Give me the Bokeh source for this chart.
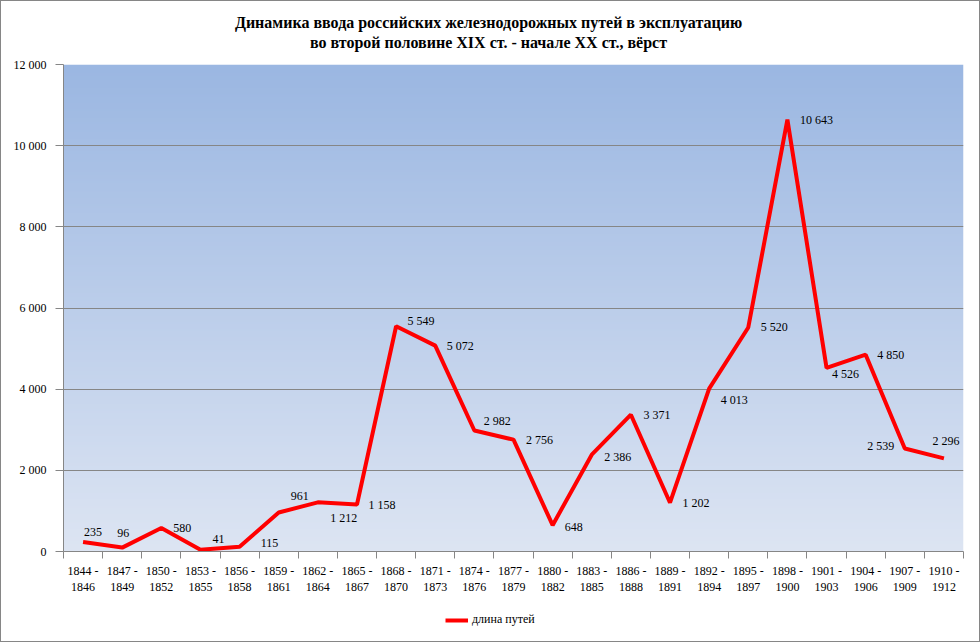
import numpy as np
from bokeh.plotting import figure
from bokeh.layouts import column
from bokeh.models import (Range1d, FixedTicker, Label, Legend, LegendItem,
                          ColumnDataSource)
from bokeh.core.properties import value
from bokeh.embed import file_html
from bokeh.resources import INLINE

# ---- data ----
periods = ["1844 -\n1846", "1847 -\n1849", "1850 -\n1852", "1853 -\n1855",
           "1856 -\n1858", "1859 -\n1861", "1862 -\n1864", "1865 -\n1867",
           "1868 -\n1870", "1871 -\n1873", "1874 -\n1876", "1877 -\n1879",
           "1880 -\n1882", "1883 -\n1885", "1886 -\n1888", "1889 -\n1891",
           "1892 -\n1894", "1895 -\n1897", "1898 -\n1900", "1901 -\n1903",
           "1904 -\n1906", "1907 -\n1909", "1910 -\n1912"]
track_length = [235, 96, 580, 41, 115, 961, 1212, 1158, 5549, 5072, 2982, 2756,
                648, 2386, 3371, 1202, 4013, 5520, 10643, 4526, 4850, 2539, 2296]
y_ticks = [0, 2000, 4000, 6000, 8000, 10000, 12000]
series_name = "длина путей"
title_line1 = "Динамика ввода российских железнодорожных путей в эксплуатацию"
title_line2 = "во второй половине XIX ст. - начале XX ст., вёрст"

# ---- label placement (style only) ----
label_dx = [10, 1, 21, 18, 30, 21, 26, 25, 25, 25, 23, 26, 21, 26, 26, 26, 25, 26, 29, 19, 25, -24, 2]
label_dy = [-10, -15, 0, -11, -4, -16, 16, 0, -5, 0, -9, 0, 2, 2, 0, 0, 11, 0, 0, 6, 0, -2, -17]

SERIF = "Liberation Serif"
GRAY = "#868686"
RED = "#ff0000"
W = 978

n = len(periods)
idx = list(range(n))

def fmt(v):
    return f"{v:,}".replace(",", " ")

def strip(height):
    f = figure(width=W, height=height, output_backend="svg", toolbar_location=None,
               x_range=Range1d(0, 1), y_range=Range1d(-2, -1),
               x_axis_type=None, y_axis_type=None,
               min_border_left=0, min_border_right=0, min_border_top=0,
               min_border_bottom=0, background_fill_color="white",
               border_fill_color="white", outline_line_color=None)
    f.xgrid.visible = False
    f.ygrid.visible = False
    return f

# ---- title strip ----
p0 = strip(55)
for txt, yy in [(title_line1, 34), (title_line2, 14)]:
    p0.add_layout(Label(x=425, y=yy, x_units="screen", y_units="screen",
                        text=txt, text_font=SERIF, text_font_size="16px",
                        text_font_style="bold", text_align="center",
                        text_baseline="middle", text_color="black"))

# ---- main chart ----
p = figure(width=W, height=550, output_backend="svg", toolbar_location=None,
           x_range=Range1d(-0.5, n - 0.5), y_range=Range1d(0, 12000),
           min_border_left=62, min_border_right=16, min_border_top=8,
           min_border_bottom=55, background_fill_color="white",
           border_fill_color="white", outline_line_color=None)

# gradient background of plot area
top = np.array([155, 183, 226], dtype=float)
bot = np.array([221, 229, 243], dtype=float)
rows = 256
t = np.linspace(0, 1, rows)[:, None]
cols = (bot * (1 - t) + top * t).astype(np.uint8)
img = np.zeros((rows, 2), dtype=np.uint32)
view = img.view(dtype=np.uint8).reshape((rows, 2, 4))
view[:, :, 0] = cols[:, 0][:, None]
view[:, :, 1] = cols[:, 1][:, None]
view[:, :, 2] = cols[:, 2][:, None]
view[:, :, 3] = 255
p.image_rgba(image=[img], x=-0.5, y=0, dw=n, dh=12000, level="image")

# axes
p.xaxis.ticker = FixedTicker(ticks=idx, minor_ticks=[i - 0.5 for i in range(n + 1)])
p.xaxis.major_label_overrides = {i: lab for i, lab in enumerate(periods)}
p.xaxis.major_tick_out = 0
p.xaxis.major_tick_in = 0
p.xaxis.minor_tick_out = 7
p.xaxis.minor_tick_in = 0
p.xaxis.minor_tick_line_color = GRAY
p.xaxis.major_label_standoff = 5
p.xaxis.axis_line_color = GRAY
p.xaxis.major_label_text_font = SERIF
p.xaxis.major_label_text_font_size = "12px"
p.xaxis.major_label_text_line_height = 1.2
p.xaxis.major_label_text_color = "black"

p.yaxis.ticker = FixedTicker(ticks=y_ticks)
p.yaxis.major_label_overrides = {v: fmt(v) for v in y_ticks}
p.yaxis.major_tick_out = 8
p.yaxis.major_tick_in = 0
p.yaxis.minor_tick_line_color = None
p.yaxis.major_tick_line_color = GRAY
p.yaxis.axis_line_color = GRAY
p.yaxis.major_label_standoff = 9
p.yaxis.major_label_text_font = SERIF
p.yaxis.major_label_text_font_size = "12px"
p.yaxis.major_label_text_color = "black"

p.xgrid.grid_line_color = None
p.ygrid.ticker = FixedTicker(ticks=y_ticks)
p.ygrid.grid_line_color = GRAY
p.ygrid.grid_line_width = 1

# series
src = ColumnDataSource(dict(x=idx, y=track_length,
                            lab=[fmt(v) for v in track_length],
                            dx=label_dx, dy=label_dy))
p.line("x", "y", source=src, line_color=RED, line_width=4)

p.text("x", "y", text="lab", source=src, x_offset="dx", y_offset="dy",
       text_font=value(SERIF), text_font_size="12px", text_color="black",
       text_align="center", text_baseline="middle")

# ---- legend strip ----
p2 = strip(35)
# same series drawn outside the strip's visible range: only its legend key shows
key = p2.line("x", "y", source=src, line_color=RED, line_width=4)
legend = Legend(items=[LegendItem(label=series_name, renderers=[key])],
                location=(382, 14), orientation="horizontal",
                padding=0, margin=0, border_line_color=None,
                background_fill_alpha=0, glyph_width=23, glyph_height=12,
                label_standoff=4, label_text_font=SERIF,
                label_text_font_size="12px", label_text_color="black")
p2.add_layout(legend, "center")

layout = column(p0, p, p2, spacing=0, styles={"border": "1px solid #868686"})

open("out.html", "w").write(file_html(layout, INLINE))
